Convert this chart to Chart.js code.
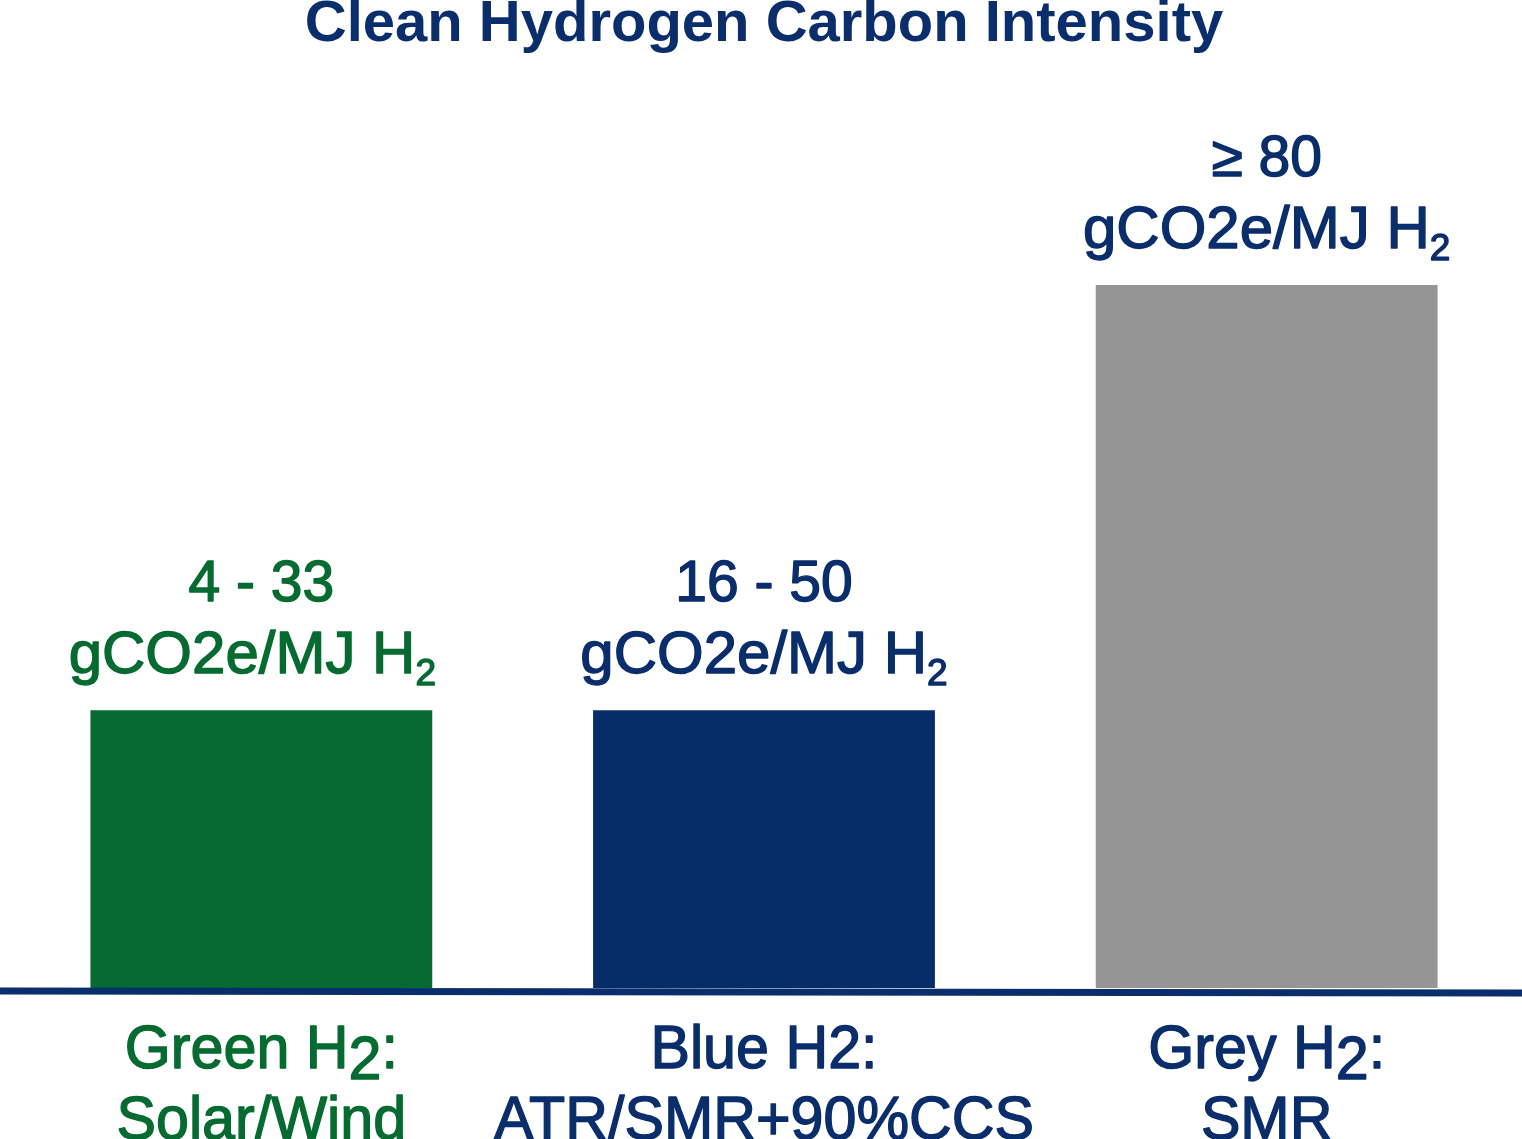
<!DOCTYPE html>
<html>
<head>
<meta charset="utf-8">
<title>Clean Hydrogen Carbon Intensity</title>
<script src="https://cdn.jsdelivr.net/npm/chart.js@4.4.1/dist/chart.umd.min.js"></script>
<style>
  html, body { margin: 0; padding: 0; background: #ffffff; }
  #wrap { width: 1522px; height: 1139px; }
</style>
</head>
<body>
<div id="wrap"><canvas id="ciChart" width="1522" height="1139"></canvas></div>
<script>
// chart values (bar heights, grey = 80)
const categories = ["Green H2:", "Blue H2:", "Grey H2:"];
const subLabels = ["Solar/Wind", "ATR/SMR+90%CCS", "SMR"];
const barValues = [31.6, 31.6, 80];
const rangeLabels = ["4 - 33", "16 - 50", "\u2265 80"];
const unitLabel = "gCO2e/MJ H";

const GREEN = "#066b30";
const NAVY = "#0a2d6b";
const GREY = "#959595";
const barColors = [GREEN, "#072d69", GREY];
const textColors = [GREEN, NAVY, NAVY];
const unitShift = [-9, 0, 0];
const FONT = "'Liberation Sans', Arial, Helvetica, sans-serif";

// draws pieces of text as one centred run; a thin stroke makes it look medium weight
function drawRun(ctx, parts, x, y, squeeze) {
  let total = 0;
  parts.forEach((p) => {
    ctx.font = p.font;
    p.w = ctx.measureText(p.text).width;
    total += p.w;
  });
  ctx.save();
  ctx.translate(x, y);
  ctx.scale(squeeze, 1);
  ctx.strokeStyle = ctx.fillStyle;
  ctx.lineWidth = 1.4;
  ctx.lineJoin = "round";
  let cx = -total / 2;
  parts.forEach((p) => {
    ctx.font = p.font;
    ctx.fillText(p.text, cx, p.dy || 0);
    ctx.strokeText(p.text, cx, p.dy || 0);
    cx += p.w;
  });
  ctx.restore();
}

const labelPlugin = {
  id: "labelPlugin",
  afterDraw(chart) {
    const ctx = chart.ctx;
    const area = chart.chartArea;
    const meta = chart.getDatasetMeta(0);

    // baseline across the whole width
    ctx.save();
    ctx.strokeStyle = NAVY;
    ctx.lineWidth = 7;
    ctx.beginPath();
    ctx.moveTo(0, area.bottom + 3);
    ctx.lineTo(chart.width, area.bottom + 5);
    ctx.stroke();
    ctx.restore();

    ctx.save();
    ctx.textBaseline = "alphabetic";
    ctx.textAlign = "left";
    meta.data.forEach((bar, i) => {
      ctx.fillStyle = textColors[i];
      // value labels above the bars
      drawRun(ctx, [{ text: rangeLabels[i], font: "500 57px " + FONT }], bar.x, bar.y - 109, 1);
      drawRun(ctx, [
        { text: unitLabel, font: "500 60px " + FONT },
        { text: "2", font: "500 37px " + FONT, dy: 12 }
      ], bar.x + unitShift[i], bar.y - 37, 1);

      // category labels under the axis
      const x = chart.scales.x.getPixelForValue(i);
      const name = categories[i];
      let parts;
      if (i === 1) {
        parts = [{ text: name, font: "500 62px " + FONT }];
      } else {
        const cut = name.indexOf("2");
        parts = [
          { text: name.slice(0, cut), font: "500 62px " + FONT },
          { text: "2", font: "500 62px " + FONT, dy: 11 },
          { text: name.slice(cut + 1), font: "500 62px " + FONT }
        ];
      }
      drawRun(ctx, parts, x, area.bottom + 80, 0.955);
      drawRun(ctx, [{ text: subLabels[i], font: "500 62px " + FONT }], x, area.bottom + 151, 0.955);
    });
    ctx.restore();
  }
};

new Chart(document.getElementById("ciChart"), {
  type: "bar",
  data: {
    labels: categories,
    datasets: [{
      data: barValues,
      backgroundColor: barColors,
      borderWidth: 0,
      categoryPercentage: 1,
      barPercentage: 0.68
    }]
  },
  options: {
    responsive: false,
    animation: false,
    layout: { padding: { left: 10, right: 4, top: 0, bottom: 151 } },
    plugins: {
      legend: { display: false },
      tooltip: { enabled: false },
      title: {
        display: true,
        text: "Clean Hydrogen Carbon Intensity",
        color: NAVY,
        font: { family: FONT, size: 58, weight: "bold", lineHeight: 0.85 },
        padding: { top: 0, bottom: 60 }
      }
    },
    scales: {
      x: { display: false },
      y: { display: false, min: 0, max: 100 }
    }
  },
  plugins: [labelPlugin]
});
</script>
</body>
</html>
